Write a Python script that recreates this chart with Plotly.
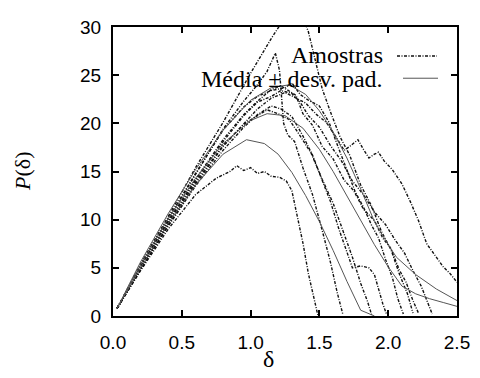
import plotly.graph_objects as go

# ---- data ----
x_ticks = [0.0, 0.5, 1.0, 1.5, 2.0, 2.5]
y_ticks = [0, 5, 10, 15, 20, 25, 30]

# sample curves ("Amostras")
s1_x = [0.03, 0.2, 0.4, 0.6, 0.8, 1.0, 1.15, 1.25, 1.32, 1.38, 1.42, 1.47, 1.52, 1.58, 1.65, 1.72, 1.8, 1.88, 1.95, 2.02, 2.08, 2.14, 2.18]
s1_y = [0.8, 5.4, 10.3, 15.4, 20.1, 25.2, 28.8, 31.0, 31.5, 31.0, 29.5, 26.4, 23.6, 21.2, 18.6, 16.7, 13.6, 11.4, 8.8, 6.9, 4.4, 2.3, 0.3]

s2_x = [0.03, 0.2, 0.4, 0.6, 0.8, 0.95, 1.05, 1.12, 1.18, 1.21, 1.24, 1.27, 1.32, 1.38, 1.45, 1.52, 1.58, 1.63, 1.67]
s2_y = [0.8, 5.2, 10.0, 14.7, 19.4, 22.3, 24.0, 25.4, 27.3, 25.5, 20.0, 18.8, 18.1, 15.4, 12.6, 8.9, 5.6, 2.4, 0.2]

s3_x = [0.03, 0.2, 0.4, 0.6, 0.8, 0.95, 1.05, 1.15, 1.22, 1.28, 1.33, 1.38, 1.45, 1.52, 1.6, 1.68, 1.75, 1.82, 1.9, 1.96, 2.02, 2.08, 2.13, 2.18, 2.22]
s3_y = [0.8, 5.1, 9.8, 14.2, 18.3, 20.9, 22.3, 23.5, 23.9, 23.4, 22.9, 21.0, 19.8, 17.6, 16.3, 14.1, 13.0, 11.1, 9.9, 8.1, 7.0, 4.8, 3.5, 1.6, 0.3]

s4_x = [0.03, 0.2, 0.4, 0.6, 0.8, 0.95, 1.05, 1.15, 1.25, 1.32, 1.4, 1.48, 1.55, 1.62, 1.68, 1.72, 1.78, 1.82, 1.86, 1.9, 1.93, 1.97, 2.03, 2.1, 2.16, 2.22, 2.28, 2.34, 2.4, 2.45, 2.5]
s4_y = [0.8, 4.9, 9.4, 13.7, 17.6, 20.0, 21.5, 22.6, 23.2, 22.7, 22.1, 20.9, 20.1, 18.6, 17.2, 17.6, 18.3, 17.3, 16.4, 16.8, 17.0, 16.1, 15.2, 13.7, 11.9, 9.9, 7.5, 6.3, 5.1, 4.4, 3.5]

s5_x = [0.03, 0.2, 0.4, 0.6, 0.8, 0.95, 1.05, 1.15, 1.22, 1.3, 1.38, 1.45, 1.52, 1.58, 1.64, 1.7, 1.74, 1.8, 1.86, 1.9, 1.93, 1.96, 1.99]
s5_y = [0.8, 4.8, 9.3, 13.5, 17.2, 19.6, 20.9, 21.8, 21.5, 20.7, 18.7, 16.7, 14.1, 11.9, 9.1, 6.7, 5.0, 5.2, 5.0, 4.3, 2.8, 1.3, 0.1]

s6_x = [0.03, 0.2, 0.4, 0.6, 0.8, 0.95, 1.05, 1.15, 1.25, 1.3, 1.36, 1.42, 1.5, 1.57, 1.64, 1.7, 1.76, 1.82, 1.88, 1.93, 1.98, 2.03, 2.07, 2.11]
s6_y = [0.8, 5.2, 10.1, 14.8, 19.3, 21.7, 22.8, 23.4, 23.7, 24.2, 23.0, 22.4, 21.8, 20.1, 17.4, 15.1, 12.9, 11.3, 9.4, 8.1, 5.9, 4.0, 1.8, 0.2]

s7_x = [0.03, 0.2, 0.4, 0.6, 0.75, 0.85, 0.9, 0.95, 1.0, 1.05, 1.1, 1.15, 1.21, 1.26, 1.3, 1.34, 1.38, 1.42, 1.46, 1.49]
s7_y = [0.8, 4.7, 9.0, 12.6, 14.3, 15.0, 15.6, 15.1, 15.4, 14.8, 15.0, 14.5, 14.4, 14.0, 13.0, 10.4, 7.6, 4.4, 1.9, 0.0]

s8_x = [0.03, 0.2, 0.4, 0.6, 0.8, 0.95, 1.05, 1.12, 1.2, 1.28, 1.36, 1.44, 1.52, 1.6, 1.68, 1.74, 1.8, 1.85, 1.88]
s8_y = [0.8, 4.9, 9.5, 13.9, 17.7, 19.9, 20.8, 21.4, 21.0, 20.4, 18.7, 16.9, 14.2, 11.7, 8.5, 6.1, 3.4, 1.5, 0.1]

s9_x = [0.03, 0.2, 0.4, 0.6, 0.8, 0.95, 1.05, 1.15, 1.22, 1.3, 1.36, 1.42, 1.5, 1.58, 1.66, 1.74, 1.82, 1.9, 1.98, 2.05, 2.12, 2.18, 2.24, 2.29, 2.32]
s9_y = [0.8, 5.0, 9.7, 14.1, 18.1, 20.8, 22.2, 22.8, 23.4, 23.1, 22.2, 20.8, 19.6, 17.7, 16.1, 14.0, 12.6, 10.8, 9.5, 7.9, 6.5, 4.7, 3.1, 1.3, 0.2]

# mean and mean +/- standard deviation ("Média ± desv. pad.")
mp_x = [0.03, 0.2, 0.4, 0.6, 0.8, 1.0, 1.15, 1.28, 1.4, 1.5, 1.6, 1.7, 1.8, 1.9, 2.0, 2.06, 2.2, 2.35, 2.5]
mp_y = [0.8, 5.6, 10.6, 15.2, 19.3, 22.4, 23.7, 24.0, 23.0, 21.3, 19.1, 16.4, 13.2, 9.8, 7.4, 6.1, 4.3, 2.8, 1.6]

m_x = [0.03, 0.2, 0.4, 0.6, 0.8, 1.0, 1.12, 1.25, 1.38, 1.5, 1.6, 1.7, 1.8, 1.9, 2.0, 2.1, 2.2, 2.3, 2.4, 2.5]
m_y = [0.8, 5.3, 10.1, 14.3, 17.9, 20.3, 21.0, 20.8, 19.5, 17.3, 15.0, 12.5, 9.9, 7.4, 5.1, 3.1, 2.3, 1.8, 1.4, 1.0]

mm_x = [0.03, 0.2, 0.4, 0.6, 0.8, 0.97, 1.1, 1.2, 1.3, 1.4, 1.5, 1.6, 1.7, 1.8, 1.9]
mm_y = [0.8, 5.0, 9.6, 13.6, 16.8, 18.3, 17.9, 16.8, 14.9, 12.5, 9.8, 6.8, 3.6, 0.6, 0.0]

samples = [(s1_x, s1_y), (s2_x, s2_y), (s3_x, s3_y), (s4_x, s4_y), (s5_x, s5_y),
           (s6_x, s6_y), (s7_x, s7_y), (s8_x, s8_y), (s9_x, s9_y)]
stats = [(mp_x, mp_y), (m_x, m_y), (mm_x, mm_y)]

DASH = "3px,1.5px,1px,1.5px"

fig = go.Figure()
for sx, sy in samples:
    fig.add_trace(go.Scatter(x=sx, y=sy, mode="lines",
                             line=dict(color="#111111", width=1.4, dash=DASH),
                             showlegend=False, hoverinfo="skip"))
for sx, sy in stats:
    fig.add_trace(go.Scatter(x=sx, y=sy, mode="lines",
                             line=dict(color="#555555", width=1),
                             showlegend=False, hoverinfo="skip"))

# page has an 8px body margin; the figure is sized/offset to compensate
OFF = 8
W, H = 480 - OFF, 378 - OFF
PL, PR, PT, PB = 113, 457, 17, 316          # plot area in page pixels
L, T = PL - OFF, PT - OFF
R, B = W - (PR - OFF), H - (PB - OFF)
pw, ph = PR - PL, PB - PT

def px(xp):
    return (xp - PL) / pw

def py(yp):
    return (PB - yp) / ph

axis_common = dict(showline=True, linecolor="black", linewidth=2, mirror="ticks",
                   ticks="inside", ticklen=6, tickwidth=1.5, tickcolor="black",
                   showgrid=False, zeroline=False,
                   tickfont=dict(family="Liberation Sans, Arial, sans-serif", size=19, color="black"))

serif = "Liberation Serif, Times New Roman, serif"

fig.update_layout(
    width=W, height=H,
    margin=dict(l=L, r=R, t=T, b=B),
    paper_bgcolor="white", plot_bgcolor="white",
    showlegend=False,
    xaxis=dict(range=[0, 2.5], tickvals=x_ticks, tickformat=".1f",
               ticklabelstandoff=8, **axis_common),
    yaxis=dict(range=[0, 30], tickvals=y_ticks, ticklabelstandoff=6, **axis_common),
    annotations=[
        dict(text="Amostras", xref="paper", yref="paper", x=px(385), y=py(46),
             xanchor="right", yanchor="middle", showarrow=False,
             font=dict(family=serif, size=24, color="black")),
        dict(text="Média ± desv. pad.", xref="paper", yref="paper", x=px(385), y=py(71),
             xanchor="right", yanchor="middle", showarrow=False,
             font=dict(family=serif, size=24, color="black")),
        dict(text="δ", xref="paper", yref="paper", x=px(268), y=py(361),
             xanchor="center", yanchor="middle", showarrow=False,
             font=dict(family=serif, size=24, color="black")),
        dict(text="<i>P</i>(δ)", xref="paper", yref="paper", x=px(23), y=py(167),
             xanchor="center", yanchor="middle", showarrow=False, textangle=-90,
             font=dict(family=serif, size=22, color="black")),
    ],
    shapes=[
        dict(type="line", xref="paper", yref="paper", x0=px(397), x1=px(437), y0=py(47), y1=py(47),
             line=dict(color="#111111", width=1.4, dash=DASH)),
        dict(type="line", xref="paper", yref="paper", x0=px(403), x1=px(438), y0=py(70), y1=py(70),
             line=dict(color="#555555", width=1)),
    ],
)

fig.write_html("out.html")
